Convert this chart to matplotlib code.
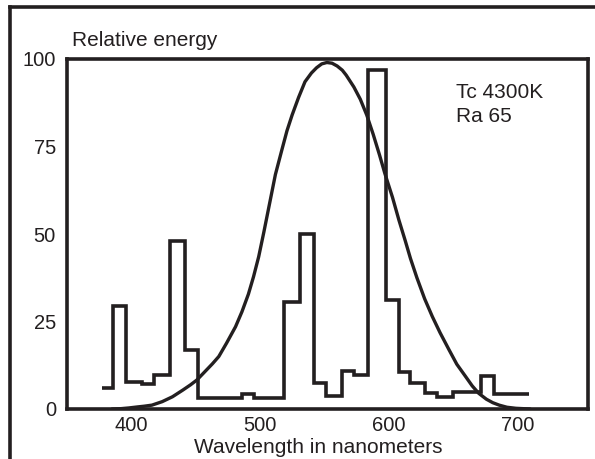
import matplotlib
matplotlib.use("Agg")
import matplotlib.pyplot as plt
from matplotlib.lines import Line2D

plt.rcParams['font.family'] = ['Liberation Sans', 'DejaVu Sans']

# Spectral power distribution (step histogram)
edges = [377, 386, 396, 408, 418, 430, 442, 452, 486, 495, 519, 531, 542,
         551, 564, 573, 584, 598, 608, 617, 628, 638, 650, 672, 682, 709]
levels = [6, 29.5, 7.8, 7.1, 9.8, 48, 16.9, 3.2, 4.2, 3.2, 30.7, 50, 7.5,
          3.7, 10.9, 9.7, 97, 31.1, 10.7, 7.3, 4.5, 3.3, 5, 9.5, 4.4]

# Eye sensitivity curve
curve_wl = [385, 392, 398, 405, 410, 416, 424, 432, 440, 446, 451, 457, 463,
            468, 474, 481, 486, 491, 495, 499, 503, 506, 509, 512, 517, 521,
            525, 530, 535, 540, 544, 548, 552, 556, 560, 564, 567, 573, 578,
            583, 588, 593, 597, 603, 608, 613, 617, 622, 628, 634, 640, 647,
            653, 660, 665, 670, 676, 681, 686, 692, 699, 710]
curve_val = [0, 0.1, 0.3, 0.6, 0.8, 1.1, 2.1, 3.5, 5.4, 6.9, 8.3, 10.6, 12.9,
             15, 18.8, 23.5, 27.8, 32.8, 37.8, 43.5, 50.5, 56, 61.5, 67, 74,
             79.5, 84, 89, 93.5, 96, 97.5, 98.6, 99, 98.8, 98, 96.8, 95.4, 92,
             88.5, 84, 78.5, 72.5, 67.4, 60.5, 54, 48, 43, 37.5, 31.5, 26.4,
             21.8, 16.9, 12.8, 9.2, 6.6, 4.5, 2.8, 1.8, 1.1, 0.5, 0.2, 0]

xticks = [400, 500, 600, 700]
yticks = [0, 25, 50, 75, 100]

ink = '#231f20'
W, H = 595, 459
fig = plt.figure(figsize=(W / 100, H / 100), dpi=100)
ax = fig.add_axes([67 / W, 1 - 409 / H, (588 - 67) / W, (409 - 59) / H])

ax.stairs(levels, edges, color=ink, linewidth=2.6, baseline=None)
ax.plot(curve_wl, curve_val, color=ink, linewidth=2.4,
        solid_capstyle='round', solid_joinstyle='round')

ax.set_xlim(350, 755)
ax.set_ylim(0, 100)
ax.set_xticks(xticks)
ax.set_yticks(yticks)
ax.tick_params(length=0, labelsize=14.5, colors=ink)
ax.tick_params(axis='y', pad=8)
ax.tick_params(axis='x', pad=5)
for s in ax.spines.values():
    s.set_linewidth(2.6)
    s.set_color(ink)

ax.text(652.5, 88.9, "Tc 4300K", fontsize=15, color=ink, va='baseline',
        ha='left')
ax.text(652.5, 82.0, "Ra 65", fontsize=15, color=ink, va='baseline',
        ha='left')

fig.text(72 / W, 1 - 46 / H, "Relative energy", fontsize=15, color=ink,
         ha='left', va='baseline')
fig.text(318 / W, 1 - 453 / H, "Wavelength in nanometers", fontsize=15,
         color=ink, ha='center', va='baseline')

# outer frame (top and left edges)
fig.add_artist(Line2D([10 / W, 1.0], [1 - 7 / H, 1 - 7 / H], color=ink,
                      linewidth=2.6, transform=fig.transFigure))
fig.add_artist(Line2D([10 / W, 10 / W], [1 - 7 / H, 0.0], color=ink,
                      linewidth=2.6, transform=fig.transFigure))

fig.savefig("out.png", dpi=100)
